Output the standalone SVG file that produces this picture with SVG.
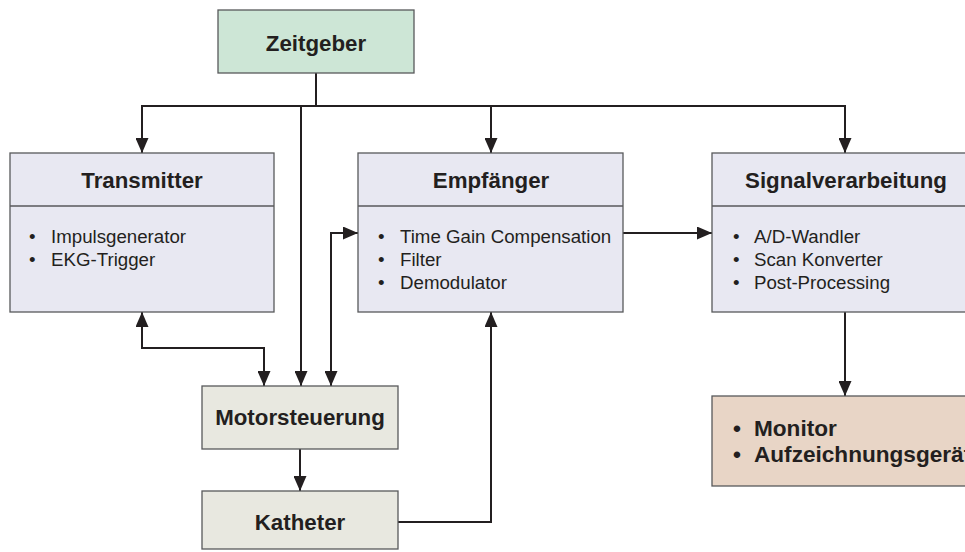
<svg xmlns="http://www.w3.org/2000/svg" width="965" height="552" viewBox="0 0 965 552">
  <style>
    .box { stroke: #58595b; stroke-width: 1.3; }
    .blue { fill: #e8e8f2; }
    .green { fill: #cde6d6; }
    .grey { fill: #e8e8e0; }
    .tan { fill: #e8d5c6; }
    .title { font-family: "Liberation Sans", Arial, sans-serif; font-weight: bold; font-size: 22.3px; fill: #231f20; text-anchor: middle; }
    .item { font-family: "Liberation Sans", Arial, sans-serif; font-size: 18.7px; fill: #231f20; }
    .bitem { font-family: "Liberation Sans", Arial, sans-serif; font-weight: bold; font-size: 22.6px; fill: #231f20; }
    .link { fill: none; stroke: #231f20; stroke-width: 2; }
    .arr { marker-end: url(#head); }
    .both { marker-start: url(#head); marker-end: url(#head); }
  </style>
  <defs>
    <marker id="head" viewBox="0 0 15 13" refX="15" refY="6.5" markerWidth="15" markerHeight="13" markerUnits="userSpaceOnUse" orient="auto-start-reverse">
      <path d="M0,0 L15,6.5 L0,13 z" fill="#231f20"/>
    </marker>
  </defs>

  <rect width="965" height="552" fill="#ffffff"/>

  <g id="connectors">
    <path class="link" d="M316 73 V106"/>
    <path class="link arr" d="M316 106 H142 V153"/>
    <path class="link arr" d="M316 106 H491 V153"/>
    <path class="link arr" d="M491 106 H845 V153"/>
    <path class="link arr" d="M301 106 V386"/>
    <path class="link both" d="M142 312 V348 H264 V386"/>
    <path class="link both" d="M331 386 V233 H358"/>
    <path class="link arr" d="M623 233 H712"/>
    <path class="link arr" d="M845 312 V396"/>
    <path class="link arr" d="M300 449 V491"/>
    <path class="link arr" d="M398 522 H491 V312"/>
  </g>

  <g id="zeitgeber">
    <rect class="box green" x="218" y="10" width="196" height="63"/>
    <text class="title" x="316" y="51">Zeitgeber</text>
  </g>

  <g id="transmitter">
    <rect class="box blue" x="10" y="153" width="264" height="159"/>
    <line class="box" x1="10" y1="206" x2="274" y2="206"/>
    <text class="title" x="142" y="188">Transmitter</text>
    <text class="item" x="29" y="243">•</text>
    <text class="item" x="51" y="243">Impulsgenerator</text>
    <text class="item" x="29" y="266">•</text>
    <text class="item" x="51" y="266">EKG-Trigger</text>
  </g>

  <g id="empfaenger">
    <rect class="box blue" x="358" y="153" width="265" height="159"/>
    <line class="box" x1="358" y1="206" x2="623" y2="206"/>
    <text class="title" x="491" y="188">Empfänger</text>
    <text class="item" x="378" y="243">•</text>
    <text class="item" x="400" y="243">Time Gain Compensation</text>
    <text class="item" x="378" y="266">•</text>
    <text class="item" x="400" y="266">Filter</text>
    <text class="item" x="378" y="289">•</text>
    <text class="item" x="400" y="289">Demodulator</text>
  </g>

  <g id="signalverarbeitung">
    <rect class="box blue" x="712" y="153" width="266" height="159"/>
    <line class="box" x1="712" y1="206" x2="978" y2="206"/>
    <text class="title" x="846" y="188">Signalverarbeitung</text>
    <text class="item" x="733" y="243">•</text>
    <text class="item" x="754" y="243">A/D-Wandler</text>
    <text class="item" x="733" y="266">•</text>
    <text class="item" x="754" y="266">Scan Konverter</text>
    <text class="item" x="733" y="289">•</text>
    <text class="item" x="754" y="289">Post-Processing</text>
  </g>

  <g id="motorsteuerung">
    <rect class="box grey" x="202" y="386" width="196" height="63"/>
    <text class="title" x="300" y="425">Motorsteuerung</text>
  </g>

  <g id="katheter">
    <rect class="box grey" x="202" y="491" width="196" height="58"/>
    <text class="title" x="300" y="530">Katheter</text>
  </g>

  <g id="ausgabe">
    <rect class="box tan" x="712" y="396" width="266" height="90"/>
    <text class="bitem" x="733" y="436">•</text>
    <text class="bitem" x="754" y="436">Monitor</text>
    <text class="bitem" x="733" y="462">•</text>
    <text class="bitem" x="754" y="462">Aufzeichnungsgerät</text>
  </g>
</svg>
